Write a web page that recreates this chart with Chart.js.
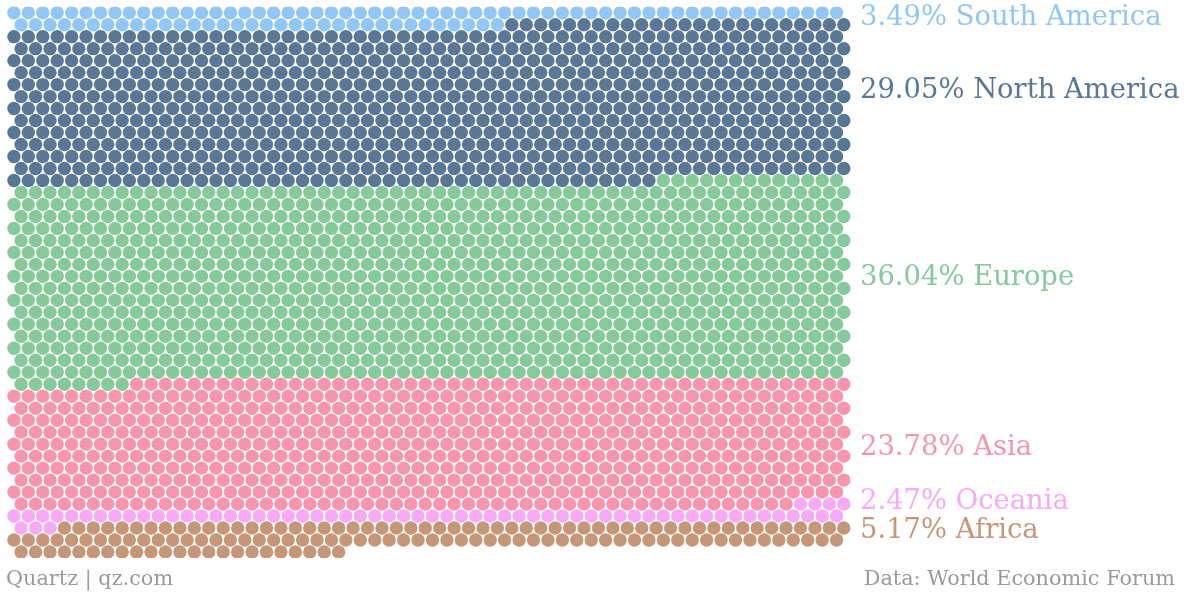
<!DOCTYPE html>
<html>
<head>
<meta charset="utf-8">
<script src="https://cdn.jsdelivr.net/npm/chart.js@4"></script>
<style>
  html, body { margin: 0; padding: 0; background: #fff; }
  #wrap { position: relative; width: 1186px; height: 599px; }
</style>
</head>
<body>
<div id="wrap"><canvas id="chart" width="1186" height="599"></canvas></div>
<script>
// data
var regions = ["South America", "North America", "Europe", "Asia", "Oceania", "Africa"];
var shares = ["3.49%", "29.05%", "36.04%", "23.78%", "2.47%", "5.17%"];
var dotCounts = [92, 765, 949, 626, 65, 136];
var colors = ["#93c6f4", "#5a7895", "#86c99b", "#f696ae", "#f6aaf6", "#c69679"];

// layout
var perRow = 58;
var labelRow = [0.4, 6.5, 22.15, 36.35, 40.85, 43.25]; // where each label sits, in rows

var datasets = [];
var idx = 0;
for (var g = 0; g < regions.length; g++) {
  var pts = [];
  for (var i = 0; i < dotCounts[g]; i++) {
    var row = Math.floor(idx / perRow);
    var col = idx % perRow;
    pts.push({ x: col + (row % 2) * 0.5, y: row });
    idx++;
  }
  datasets.push({
    label: regions[g],
    data: pts,
    backgroundColor: colors[g],
    borderWidth: 0,
    pointRadius: 6.7,
    pointHoverRadius: 6.7
  });
}

var labelsPlugin = {
  id: "sideLabels",
  afterDraw: function (chart) {
    var c = chart.ctx;
    var ys = chart.scales.y;
    c.save();
    c.textBaseline = "middle";
    c.font = "27.4px 'DejaVu Serif'";
    for (var g = 0; g < regions.length; g++) {
      c.fillStyle = colors[g];
      c.textAlign = "left";
      c.fillText(shares[g] + " " + regions[g], 860, ys.getPixelForValue(labelRow[g]));
    }
    c.font = "20.8px 'DejaVu Serif'";
    c.fillStyle = "#9a9a9a";
    c.fillText("Quartz | qz.com", 6, 580);
    c.textAlign = "right";
    c.fillText("Data: World Economic Forum", 1175, 580);
    c.restore();
  }
};

var ctx = document.getElementById("chart");
var myChart = new Chart(ctx, {
  type: "scatter",
  data: { datasets: datasets },
  options: {
    responsive: false,
    animation: false,
    layout: { padding: { left: 0, top: 0, right: 335, bottom: 41 } },
    plugins: { legend: { display: false }, tooltip: { enabled: false } },
    scales: {
      x: { display: false, min: -0.5, max: 58 },
      y: { display: false, reverse: true, min: -0.5, max: 45.5 }
    }
  },
  plugins: [labelsPlugin]
});
</script>
</body>
</html>
